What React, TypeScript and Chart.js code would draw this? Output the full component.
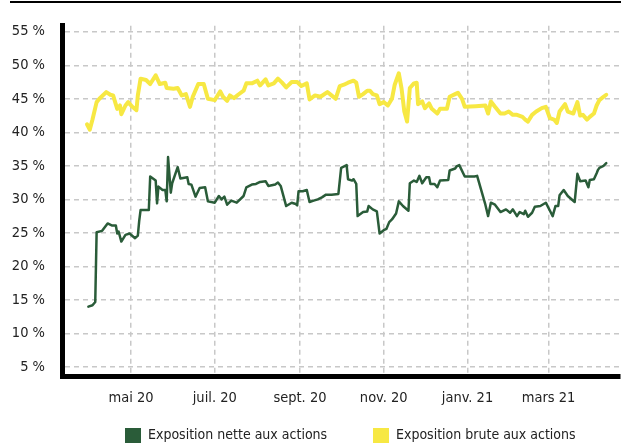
import React, { useEffect, useRef } from "react";
import { Chart, registerables } from "chart.js";

Chart.register(...registerables);

// x values are days counted from 1 Jan 2020 (day 121 = 1 mai 2020)
const netDays = [
  90, 93, 95, 96, 100, 104, 107, 110, 111, 112, 114, 117, 120, 124, 126, 127, 128, 134, 135, 139,
  140, 141, 144, 146, 147, 148, 150, 151, 155, 157, 162, 163, 165, 168, 171, 175, 177, 182, 185, 187,
  189, 191, 194, 198, 203, 205, 209, 212, 215, 219, 221, 226, 228, 230, 234, 238, 241, 242, 243, 246,
  249, 251, 254, 257, 260, 263, 267, 272, 274, 278, 279, 282, 283, 285, 286, 290, 293, 294, 297, 300,
  302, 305, 307, 309, 311, 314, 316, 319, 323, 324, 327, 329, 331, 333, 336, 338, 339, 342, 344, 346,
  352, 353, 357, 358, 360, 364, 371, 373, 379, 381, 383, 386, 390, 394, 397, 399, 402, 404, 407, 408,
  410, 413, 415, 419, 423, 426, 428, 430, 432, 433, 436, 439, 444, 446, 448, 452, 454, 455, 458, 460,
  461, 462, 465, 467,
];
const netValues = [
  14.0, 14.2, 14.7, 25.1, 25.3, 26.4, 26.1, 26.1, 24.9, 25.2, 23.7, 24.7, 24.9, 24.2, 24.6, 26.8, 28.4, 28.4, 33.4, 32.8,
  29.4, 31.9, 31.4, 31.4, 29.7, 36.3, 31.0, 32.4, 34.8, 33.1, 33.3, 32.3, 32.2, 30.4, 31.7, 31.8, 29.7, 29.5, 30.5, 30.0,
  30.4, 29.2, 29.8, 29.5, 30.5, 31.8, 32.2, 32.3, 32.6, 32.7, 32.0, 32.2, 32.5, 32.0, 29.0, 29.5, 29.3, 29.1, 31.2, 31.2,
  31.4, 29.6, 29.8, 30.0, 30.3, 30.7, 30.7, 30.8, 34.7, 35.1, 33.0, 32.8, 33.0, 32.3, 27.5, 28.1, 28.2, 29.0, 28.5, 28.2,
  24.9, 25.4, 25.6, 26.6, 27.0, 27.9, 29.7, 29.0, 28.3, 32.4, 32.8, 32.6, 33.5, 32.4, 33.3, 33.3, 32.3, 32.3, 31.8, 32.8,
  32.9, 34.3, 34.6, 34.9, 35.1, 33.4, 33.4, 33.5, 29.2, 27.5, 29.5, 29.2, 28.1, 28.5, 28.0, 28.5, 27.5, 28.1, 27.8, 28.3,
  27.4, 28.0, 28.9, 29.0, 29.5, 28.3, 27.5, 29.0, 29.0, 30.6, 31.4, 30.5, 29.6, 33.8, 32.7, 32.8, 31.8, 32.9, 33.0, 33.9,
  34.4, 34.7, 35.0, 35.4,
];
const grossDays = [
  89, 91, 93, 96, 98, 103, 106, 108, 111, 113, 114, 117, 119, 122, 125, 126, 128, 132, 135, 139,
  142, 146, 147, 152, 155, 158, 161, 164, 166, 170, 174, 177, 182, 186, 188, 191, 193, 196, 199, 203,
  205, 209, 213, 215, 219, 221, 225, 228, 231, 234, 238, 242, 245, 249, 251, 255, 259, 264, 267, 270,
  273, 276, 279, 283, 285, 287, 290, 293, 295, 297, 300, 302, 305, 308, 311, 313, 316, 318, 320, 322,
  324, 327, 329, 330, 333, 335, 338, 340, 344, 346, 351, 353, 357, 359, 362, 364, 372, 379, 381, 383,
  386, 390, 393, 396, 399, 402, 406, 408, 410, 413, 416, 420, 423, 426, 429, 431, 433, 437, 439, 443,
  446, 448, 450, 453, 455, 458, 460, 462, 465, 467,
];
const grossValues = [
  41.2, 40.4, 41.9, 44.5, 45.0, 46.0, 45.6, 45.5, 43.5, 44.0, 42.7, 44.0, 44.5, 43.8, 43.3, 45.5, 48.0, 47.8, 47.2, 48.5,
  47.2, 47.4, 46.6, 46.5, 46.6, 45.5, 45.7, 43.8, 45.3, 47.2, 47.2, 45.0, 44.8, 46.1, 45.3, 44.7, 45.5, 45.1, 45.6, 46.2,
  47.3, 47.3, 47.7, 47.0, 47.9, 47.0, 47.3, 48.0, 47.4, 46.7, 47.5, 47.5, 46.9, 47.3, 44.9, 45.5, 45.3, 46.0, 45.5, 45.0,
  46.9, 47.1, 47.4, 47.7, 47.4, 45.3, 45.7, 46.2, 46.2, 45.7, 45.5, 44.2, 44.5, 44.0, 45.0, 47.1, 48.8, 46.5, 43.1, 41.6,
  46.6, 47.3, 47.4, 44.2, 44.6, 43.6, 44.3, 43.5, 42.8, 43.5, 43.5, 45.3, 45.7, 45.9, 45.0, 43.8, 43.9, 44.0, 42.8, 44.6,
  43.8, 42.8, 42.8, 43.1, 42.6, 42.6, 42.3, 41.9, 41.6, 42.6, 43.1, 43.6, 43.8, 42.1, 41.9, 41.4, 43.1, 44.2, 43.1, 42.8,
  44.5, 42.5, 42.6, 41.9, 42.3, 42.8, 44.0, 44.8, 45.3, 45.6,
];

const tickDays = [121, 182, 244, 305, 366, 425];
const tickLabels = ["mai 20", "juil. 20", "sept. 20", "nov. 20", "janv. 21", "mars 21"];
const yTickValues = [5, 10, 15, 20, 25, 30, 35, 40, 45, 50, 55];
const seriesLabels = ["Exposition nette aux actions", "Exposition brute aux actions"];

const GREEN = "#2a5c39";
const YELLOW = "#f7e843";
const FONT_FAMILY = "'DejaVu Sans Condensed', 'DejaVu Sans', sans-serif";
const TEXT = "#222222";
const GRID = "#c8c8c8";

export default function App() {
  const canvasRef = useRef<HTMLCanvasElement | null>(null);

  useEffect(() => {
    if (!canvasRef.current) return;
    const chart = new Chart(canvasRef.current, {
      type: "line",
      data: {
        datasets: [
          {
            label: seriesLabels[1],
            data: grossDays.map((d, i) => ({ x: d, y: grossValues[i] })),
            borderColor: YELLOW,
            backgroundColor: YELLOW,
            borderWidth: 4,
            pointRadius: 0,
            tension: 0,
            borderJoinStyle: "round",
            borderCapStyle: "round",
          },
          {
            label: seriesLabels[0],
            data: netDays.map((d, i) => ({ x: d, y: netValues[i] })),
            borderColor: GREEN,
            backgroundColor: GREEN,
            borderWidth: 2.5,
            pointRadius: 0,
            tension: 0,
            borderJoinStyle: "round",
            borderCapStyle: "round",
          },
        ],
      },
      options: {
        animation: false,
        responsive: false,
        maintainAspectRatio: false,
        layout: { padding: { top: 17, right: 3, left: 0, bottom: 0 } },
        plugins: { legend: { display: false }, tooltip: { enabled: false } },
        scales: {
          x: {
            type: "linear",
            min: 70.8,
            max: 477,
            afterBuildTicks: (s: any) => {
              s.ticks = tickDays.map((v) => ({ value: v }));
            },
            afterFit: (s: any) => {
              s.height = 67;
            },
            ticks: {
              autoSkip: false,
              maxRotation: 0,
              padding: 14,
              color: TEXT,
              font: { family: FONT_FAMILY, size: 14.5 },
              callback: (v: any) => {
                const i = tickDays.indexOf(Number(v));
                return i >= 0 ? tickLabels[i] : "";
              },
            },
            grid: { color: GRID, lineWidth: 1.5, drawTicks: false },
            border: { display: true, color: "#000000", width: 5, dash: [5, 4] },
          },
          y: {
            type: "linear",
            min: 3.65,
            max: 55.9,
            afterBuildTicks: (s: any) => {
              s.ticks = yTickValues.map((v) => ({ value: v }));
            },
            afterFit: (s: any) => {
              s.width = 62;
            },
            ticks: {
              padding: 17,
              color: TEXT,
              font: { family: FONT_FAMILY, size: 14.5 },
              callback: (v: any) => `${v} %`,
            },
            grid: { color: GRID, lineWidth: 1.5, drawTicks: false },
            border: { display: true, color: "#000000", width: 5, dash: [5, 4] },
          },
        },
      },
    });
    return () => chart.destroy();
  }, []);

  const legendItems = [
    { label: seriesLabels[0], color: GREEN, left: 125 },
    { label: seriesLabels[1], color: YELLOW, left: 373 },
  ];

  return (
    <div
      style={{
        position: "fixed",
        left: 0,
        top: 0,
        width: 623,
        height: 443,
        overflow: "hidden",
        background: "#ffffff",
      }}
    >
      <div style={{ position: "absolute", left: 10, top: 1, width: 611, height: 2, background: "#000" }} />
      <canvas ref={canvasRef} width={623} height={443} style={{ position: "absolute", left: 0, top: 0 }} />
      {legendItems.map((it) => (
        <div
          key={it.label}
          style={{
            position: "absolute",
            left: it.left,
            top: 426,
            display: "flex",
            alignItems: "flex-start",
            fontFamily: FONT_FAMILY,
            fontSize: 14,
            lineHeight: "17px",
            color: TEXT,
            whiteSpace: "nowrap",
          }}
        >
          <span style={{ display: "inline-block", width: 16, height: 16, marginTop: 2, background: it.color }} />
          <span style={{ marginLeft: 7 }}>{it.label}</span>
        </div>
      ))}
    </div>
  );
}
